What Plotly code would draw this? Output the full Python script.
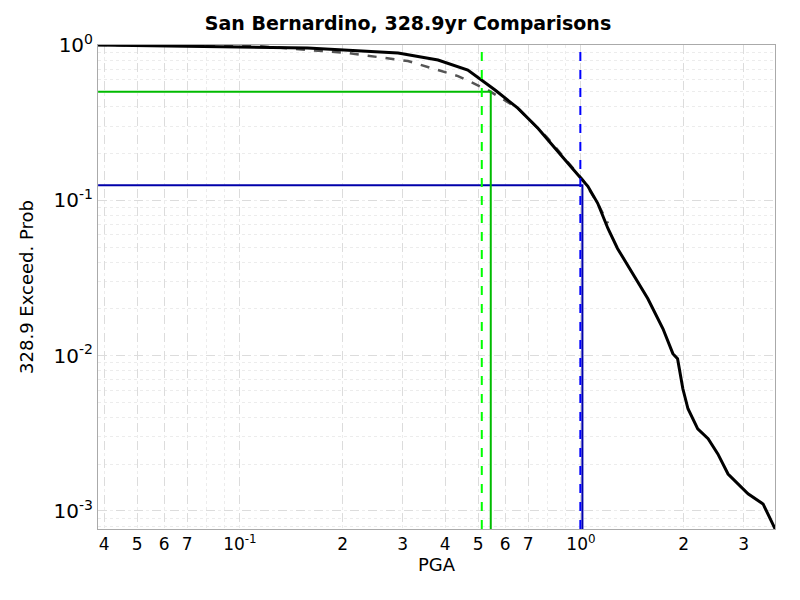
import plotly.graph_objects as go

# simulated exceedance curve
sim_pga = [0.0384, 0.158, 0.291, 0.381, 0.466, 0.560, 0.653, 0.748, 0.916, 1.048, 1.12, 1.20, 1.28,
           1.42, 1.57, 1.74, 1.86, 1.92, 1.99, 2.06, 2.20, 2.36, 2.52, 2.70, 3.09, 3.42, 3.71]
sim_prob = [1.0, 0.956, 0.888, 0.800, 0.690, 0.513, 0.392, 0.291, 0.173, 0.123, 0.0957, 0.0659, 0.049,
            0.0338, 0.0233, 0.0149, 0.0103, 0.00957, 0.00612, 0.00455, 0.00338, 0.00292, 0.00233,
            0.00173, 0.00129, 0.00111, 0.000766]

# poisson curve
poi_pga = [0.0384, 0.113, 0.207, 0.311, 0.436, 0.533, 0.653, 0.800, 1.014, 1.12, 1.20]
poi_prob = [1.0, 0.985, 0.888, 0.788, 0.631, 0.513, 0.392, 0.251, 0.135, 0.0957, 0.0711]

x_min, x_max = 0.0384, 3.71
y_min, y_max = 0.000766, 1.0

p012_val, p012_prob = 1.01, 0.125
ti012 = 0.996
p05_val, p05_prob = 0.544, 0.5
ti05 = 0.512

fig = go.Figure()
fig.add_trace(go.Scatter(x=poi_pga, y=poi_prob, mode="lines", name="Poisson",
                         line=dict(color="#555555", width=2.5, dash="dash")))
fig.add_trace(go.Scatter(x=sim_pga, y=sim_prob, mode="lines", name="Simulation",
                         line=dict(color="black", width=3)))
fig.add_trace(go.Scatter(x=[x_min, p012_val, p012_val], y=[p012_prob, p012_prob, y_min], mode="lines",
                         name="p0.12: 1.01", line=dict(color="#0000aa", width=2)))
fig.add_trace(go.Scatter(x=[ti012, ti012], y=[y_min, y_max], mode="lines",
                         name="TI Comp = 0.996", line=dict(color="#0000ff", width=2, dash="dash")))
fig.add_trace(go.Scatter(x=[x_min, p05_val, p05_val], y=[p05_prob, p05_prob, y_min], mode="lines",
                         name="p0.5: 0.544", line=dict(color="#00bb00", width=2)))
fig.add_trace(go.Scatter(x=[ti05, ti05], y=[y_min, y_max], mode="lines",
                         name="TI Comp = 0.512", line=dict(color="#00ff00", width=2, dash="dash")))

xt_vals = [0.04, 0.05, 0.06, 0.07, 0.1, 0.2, 0.3, 0.4, 0.5, 0.6, 0.7, 1, 2, 3]
xt_text = ["4", "5", "6", "7", "10<sup>-1</sup>", "2", "3", "4", "5", "6", "7", "10<sup>0</sup>", "2", "3"]
yt_vals = [0.001, 0.01, 0.1, 1]
yt_text = ["10<sup>-3</sup>", "10<sup>-2</sup>", "10<sup>-1</sup>", "10<sup>0</sup>"]

major = dict(showgrid=True, gridcolor="#dcdcdc", griddash="dash", gridwidth=1)
minor = dict(dtick="D1", showgrid=True, gridcolor="#ececec", griddash="dot", gridwidth=1)
fig.update_xaxes(type="log", range=[-1.416, 0.569], tickvals=xt_vals, ticktext=xt_text,
                 tickfont=dict(size=17, color="black"), ticks="", showline=True, linecolor="#aaaaaa",
                 mirror=True, title=dict(text="PGA", font=dict(size=18), standoff=2),
                 minor=minor, **major)
fig.update_yaxes(type="log", range=[-3.116, 0], tickvals=yt_vals, ticktext=yt_text,
                 tickfont=dict(size=20, color="black"), ticks="", showline=True, linecolor="#aaaaaa",
                 mirror=True, title=dict(text="328.9 Exceed. Prob", font=dict(size=18)),
                 minor=minor, **major)

fig.update_layout(
    width=800, height=600,
    title=dict(text="<b>San Bernardino, 328.9yr Comparisons</b>", x=0.5, y=0.985,
               font=dict(size=19, color="black")),
    font=dict(family="DejaVu Sans", color="black"),
    plot_bgcolor="white", paper_bgcolor="white",
    margin=dict(l=90, r=33, t=37, b=79, autoexpand=False),
    legend=dict(orientation="h", x=0.5, xanchor="center", y=-0.15, yanchor="top",
                font=dict(size=12), itemwidth=30, tracegroupgap=0),
)

fig.write_html("out.html")
